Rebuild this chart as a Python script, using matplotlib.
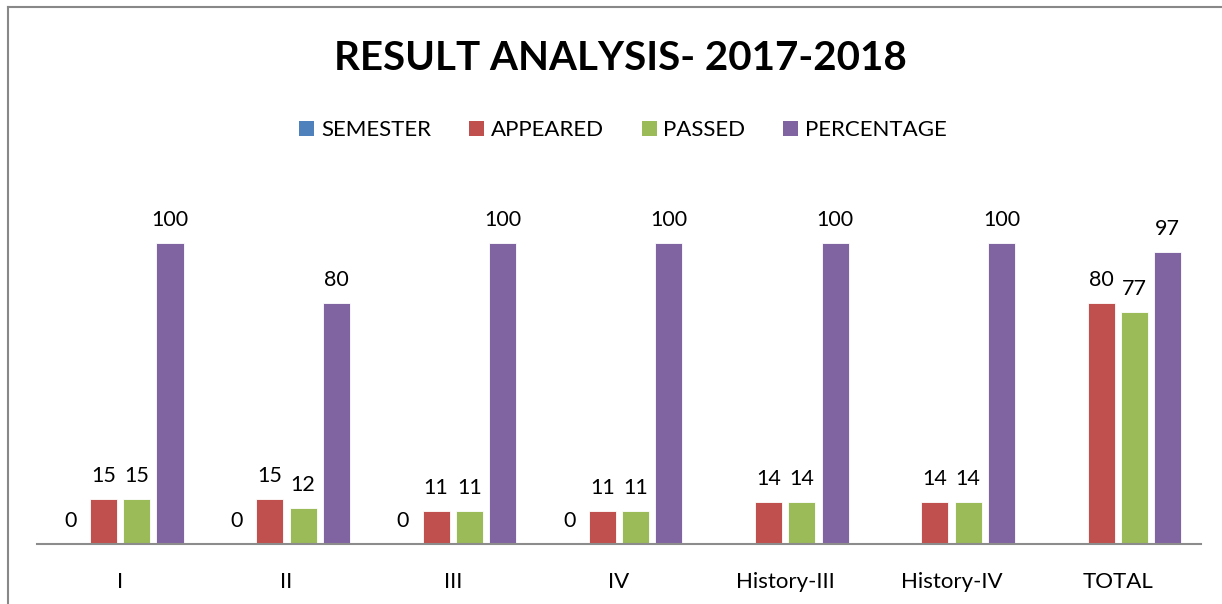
import matplotlib
matplotlib.use("Agg")
import matplotlib.pyplot as plt
import numpy as np
from matplotlib.lines import Line2D
from matplotlib.patches import Patch

categories = ["I", "II", "III", "IV", "History-III", "History-IV", "TOTAL"]
semester = [0, 0, 0, 0, None, None, None]
appeared = [15, 15, 11, 11, 14, 14, 80]
passed = [15, 12, 11, 11, 14, 14, 77]
percentage = [100, 80, 100, 100, 100, 100, 97]
series_names = ["SEMESTER", "APPEARED", "PASSED", "PERCENTAGE"]
colors = ["#4F81BD", "#C0504D", "#9BBB59", "#8064A2"]

plt.rcParams['font.family'] = ['Lato', 'DejaVu Sans']

W, H = 1222, 604
fig = plt.figure(figsize=(W / 100, H / 100), dpi=100)
ax = fig.add_axes([37 / W, (H - 544) / H, (1201 - 37) / W, (544 - 183) / H])

x = np.arange(len(categories))
step = 0.2
bw = 0.163
all_series = [semester, appeared, passed, percentage]
for i, (vals, col) in enumerate(zip(all_series, colors)):
    off = (i - 1.5) * step
    for xi, v in zip(x, vals):
        if v is None:
            continue
        ax.bar(xi + off, v, width=bw, color=col, edgecolor='white', linewidth=0.6, zorder=2)
        ax.annotate(str(v), (xi + off, v), xytext=(0, 12.2), textcoords='offset points',
                    ha='center', va='baseline', fontsize=15.5, color='black')

ax.set_xlim(-0.5, len(categories) - 0.5)
ax.set_ylim(0, 120)
ax.set_xticks(x)
ax.set_xticklabels(categories, fontsize=16)
ax.tick_params(axis='x', length=0, pad=20)
ax.set_yticks([])
for s in ['top', 'right', 'left']:
    ax.spines[s].set_visible(False)
ax.spines['bottom'].set_color('#8C8C8C')
ax.spines['bottom'].set_linewidth(1.5)

fig.text(620 / W, 1 - 58 / H, "RESULT ANALYSIS- 2017-2018", ha='center', va='center',
         fontsize=29, fontweight='bold')

handles = [Patch(facecolor=c, edgecolor='none') for c in colors]
fig.legend(handles, series_names, loc='center', bbox_to_anchor=(623 / W, 1 - 130 / H),
           ncol=4, frameon=False, fontsize=16, handlelength=0.68, handleheight=0.68,
           handletextpad=0.3, columnspacing=1.7, borderpad=0, borderaxespad=0)

fig.add_artist(Line2D([8 / W, 8 / W], [0, 1 - 7 / H], color='#888888', linewidth=1.5))
fig.add_artist(Line2D([8 / W, 1], [1 - 7 / H, 1 - 7 / H], color='#888888', linewidth=1.5))

fig.savefig("out.png", dpi=100)
